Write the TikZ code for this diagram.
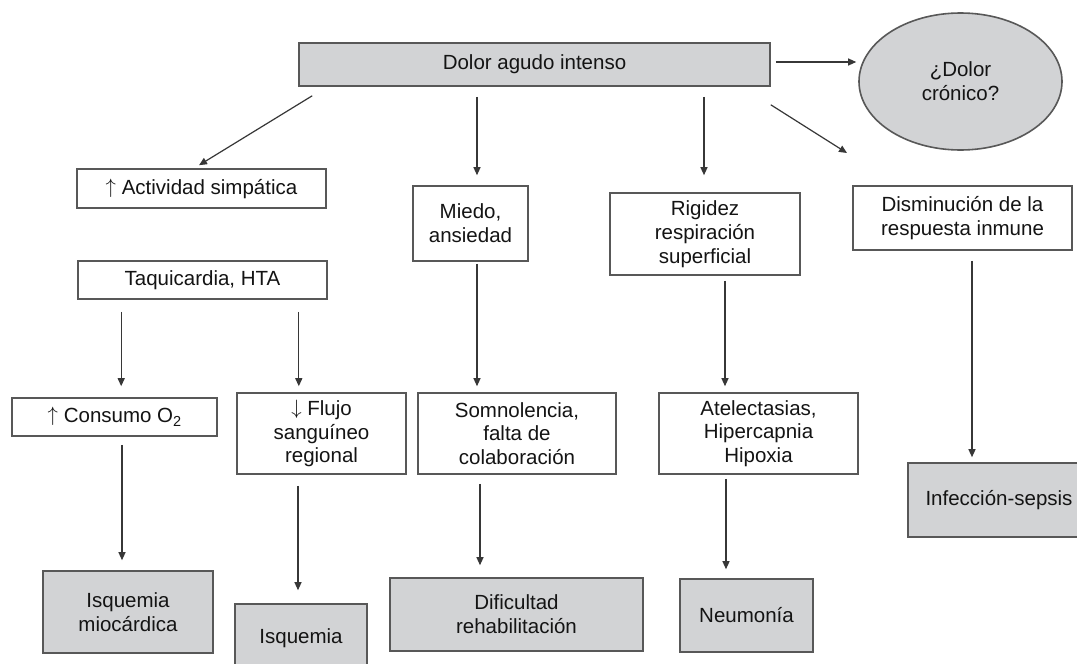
\documentclass[tikz,border=0pt]{standalone}
\usepackage{fontspec}
\setmainfont{Liberation Sans}
\usetikzlibrary{arrows.meta,calc,shapes.geometric}
\definecolor{boxgray}{RGB}{210,211,213}
\definecolor{linegray}{RGB}{88,88,88}
\definecolor{arrowgray}{RGB}{55,55,55}
\definecolor{txt}{RGB}{20,20,20}
\newcommand{\upar}{\raisebox{0.1ex}{$\uparrow$}}
\newcommand{\dnar}{\raisebox{0.1ex}{$\downarrow$}}
\begin{document}
\begin{tikzpicture}[x=1pt,y=-1pt,
  box/.style={draw=linegray, line width=1.6pt, fill=white, text=txt, align=center,
    inner sep=0pt, font=\fontsize{20.5}{23.8}\selectfont},
  gbox/.style={box, fill=boxgray},
  arr/.style={draw=arrowgray, line width=1.2pt, -{Triangle[length=8pt,width=7pt]}}]
\clip (0,0) rectangle (1077,664);
\fill[white] (0,0) rectangle (1077,664);

% top level
\node[gbox, minimum width=471pt, minimum height=43pt] (dolor) at (534.5,64.5) {Dolor agudo intenso};
\node[gbox, ellipse, minimum width=203pt, minimum height=137pt] (cronico) at (960.5,81.5) {¿Dolor\\crónico?};

% second level
\node[box, minimum width=249pt, minimum height=39pt] (activ) at (201.5,188.5) {\upar\ Actividad simpática};
\node[box, minimum width=249pt, minimum height=38pt] (taqui) at (202.5,280) {Taquicardia, HTA};
\node[box, minimum width=115pt, minimum height=75pt] (miedo) at (470.5,223.5) {Miedo,\\ansiedad};
\node[box, minimum width=190pt, minimum height=82pt] (rigidez) at (705,234) {Rigidez\\respiración\\superficial};
\node[box, minimum width=219pt, minimum height=64pt] (dismin) at (962.5,218) {Disminución de la\\respuesta inmune};

% third level
\node[box, minimum width=205pt, minimum height=38pt] (consumo) at (114.5,417) {\upar\ Consumo O\raisebox{-0.35ex}{\fontsize{14.5}{14.5}\selectfont 2}};
\node[box, minimum width=169pt, minimum height=81pt] (flujo) at (321.5,433.5) {\dnar\ Flujo\\sanguíneo\\regional};
\node[box, minimum width=198pt, minimum height=81pt] (somno) at (517,433.5) {Somnolencia,\\falta de\\colaboración};
\node[box, minimum width=199pt, minimum height=81pt] (atelec) at (758.5,433.5) {Atelectasias,\\Hipercapnia\\Hipoxia};

% outcomes
\node[gbox, minimum width=170pt, minimum height=82pt] (isqmio) at (128,612) {Isquemia\\miocárdica};
\node[gbox, minimum width=132pt, minimum height=68pt] (isq) at (301,638) {Isquemia};
\node[gbox, minimum width=253pt, minimum height=73pt] (dificult) at (516.5,614.5) {Dificultad\\rehabilitación};
\node[gbox, minimum width=133pt, minimum height=73pt] (neumonia) at (746.5,615.5) {Neumonía};
\node[gbox, minimum width=182pt, minimum height=74pt] (infec) at (999,500) {Infección-sepsis};

\coordinate (immune) at (847,153);

% connectors
\draw[arr] ($(dolor.south west)+(14,9)$) -- ($(activ.north)+(-2.5,-3)$);
\draw[arr] ($(dolor.east)+(5,-2.5)$) -- ($(dolor.east -| cronico.west)+(-2,-2.5)$);
\draw[arr] ($(dolor.south -| miedo.north)+(6.5,10)$) -- ($(miedo.north)+(6.5,-10)$);
\draw[arr] ($(dolor.south -| rigidez.north)+(-1,10)$) -- ($(rigidez.north)+(-1,-17)$);
\draw[arr] ($(dolor.south east)+(0,18)$) -- (immune);

\draw[arr] ($(miedo.south)+(6.5,2)$) -- ($(miedo.south |- somno.north)+(6.5,-6)$);
\draw[arr] ($(rigidez.south)+(20,5)$) -- ($(rigidez.south |- atelec.north)+(20,-6)$);
\draw[arr] ($(dismin.south)+(9.5,10)$) -- ($(dismin.south |- infec.north)+(9.5,-5)$);

\draw[arr] ($(taqui.south west)+(44,12)$) -- ($(taqui.south west |- consumo.north)+(44,-11)$);
\draw[arr] ($(taqui.south east)+(-29,12)$) -- ($(taqui.south east |- flujo.north)+(-29,-6)$);

\draw[arr] ($(consumo.south)+(7.5,8)$) -- ($(consumo.south |- isqmio.north)+(7.5,-10)$);
\draw[arr] ($(flujo.south)+(-23.5,11)$) -- ($(flujo.south |- isq.north)+(-23.5,-13)$);
\draw[arr] ($(somno.south)+(-37,9)$) -- ($(somno.south |- dificult.north)+(-37,-12)$);
\draw[arr] ($(atelec.south)+(-32.5,4)$) -- ($(atelec.south |- neumonia.north)+(-32.5,-9)$);
\end{tikzpicture}
\end{document}
